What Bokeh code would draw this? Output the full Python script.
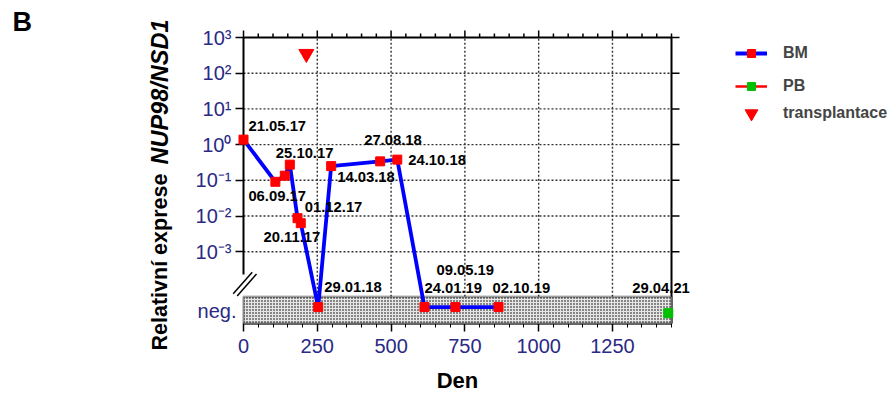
from math import log10, pi

from bokeh.plotting import figure
from bokeh.models import (Range1d, FixedTicker, LinearAxis, BoxAnnotation, Label, LabelSet,
                          ColumnDataSource, Legend, LegendItem, Arrow)
from bokeh.embed import file_html
from bokeh.resources import INLINE
from bokeh.core.properties import value

# ---------------- data ----------------
bm_dates = ["21.05.17", "06.09.17", "", "25.10.17", "20.11.17", "01.12.17", "29.01.18",
            "14.03.18", "27.08.18", "24.10.18", "24.01.19", "09.05.19", "02.10.19"]
bm_days = [0, 108, 140, 157, 183, 194, 253, 297, 463, 521, 613, 718, 864]
# relative expression; 0 means "neg."
bm_values = [1.38, 0.091, 0.135, 0.275, 0.0087, 0.0063, 0, 0.25, 0.34, 0.38, 0, 0, 0]

pb_dates = ["29.04.21"]
pb_days = [1439]
pb_values = [0]

transplant_days = [213]
transplant_values = [350]

y_tick_exponents = [3, 2, 1, 0, -1, -2, -3]
y_tick_labels = ["10³", "10²", "10¹", "10⁰", "10⁻¹", "10⁻²", "10⁻³"]
x_ticks = [0, 250, 500, 750, 1000, 1250]
neg_text = "neg."

# ---------------- layout / style ----------------
W, H = 891, 393
FR_L, FR_R, FR_T, FR_B = 243, 671, 37, 323      # chart box in canvas pixels
X_MIN, X_MAX = 0, 1450
Y_BOTTOM, Y_TOP = -5.01, 3.0
NEG_Y_BM = -4.55
NEG_Y_PB = -4.72
BAND_TOP = -4.26
AXIS_BREAK = -3.65
NAVY = "#2a2a84"
FONT = "Liberation Sans"
BLUE = "#0000ff"
RED = "#ff0000"
GREEN = "#00c000"

px_per_day = (FR_R - FR_L) / (X_MAX - X_MIN)
px_per_dec = (FR_B - FR_T) / (Y_TOP - Y_BOTTOM)


def dx(px):
    return X_MIN + (px - FR_L) / px_per_day


def dy(py):
    return Y_TOP - (py - FR_T) / px_per_dec


def to_y(v, neg):
    return log10(v) if v > 0 else neg


# the plotting frame covers the whole canvas; axes are pinned to the chart box
p = figure(width=W, height=H, x_range=Range1d(dx(0), dx(W)), y_range=Range1d(dy(H), dy(0)),
           output_backend="svg", toolbar_location=None, title=None,
           x_axis_location=None, y_axis_location=None, min_border=0,
           outline_line_color=None, background_fill_color="white",
           border_fill_color="white")
for g in p.grid:
    g.visible = False

minor_x = list(range(X_MIN, X_MAX + 1, 50))

# ---- dotted grid (behind everything) ----
gx = x_ticks[1:]
p.segment(x0=gx, y0=[BAND_TOP] * len(gx), x1=gx, y1=[Y_TOP] * len(gx),
          line_color="#333333", line_dash="2 2", line_width=1.4, level="underlay")
gy = y_tick_exponents[1:]
p.segment(x0=[X_MIN] * len(gy), y0=gy, x1=[X_MAX] * len(gy), y1=gy,
          line_color="#333333", line_dash="2 2", line_width=1.4, level="underlay")

# ---- bottom axis ----
xa = LinearAxis(fixed_location=Y_BOTTOM, bounds=(X_MIN, X_MAX),
                ticker=FixedTicker(ticks=x_ticks, minor_ticks=minor_x))
xa.axis_line_width = 2
xa.major_tick_out = 8
xa.major_tick_in = 0
xa.minor_tick_out = 4
xa.minor_tick_in = 0
xa.major_tick_line_width = 1.5
xa.major_label_text_font = FONT
xa.major_label_text_font_size = "20px"
xa.major_label_text_color = NAVY
xa.major_label_standoff = 7
xa.axis_label = "Den"
xa.axis_label_text_font = FONT
xa.axis_label_text_font_style = "bold"
xa.axis_label_text_font_size = "22px"
xa.axis_label_text_color = "black"
xa.axis_label_standoff = 12
p.add_layout(xa, "below")

# ---- left axis (log part only) ----
ya = LinearAxis(fixed_location=X_MIN, bounds=(AXIS_BREAK, Y_TOP),
                ticker=FixedTicker(ticks=y_tick_exponents, minor_ticks=[]))
ya.major_label_overrides = {e: t for e, t in zip(y_tick_exponents, y_tick_labels)}
ya.axis_line_width = 2
ya.major_tick_out = 8
ya.major_tick_in = 0
ya.major_tick_line_width = 1.5
ya.major_label_text_font = FONT
ya.major_label_text_font_size = "20px"
ya.major_label_text_color = NAVY
ya.major_label_standoff = 4
p.add_layout(ya, "left")

# ---- top and right frame lines with outward ticks ----
t_major = 7 / px_per_dec
t_minor = 4 / px_per_dec
p.segment(x0=[X_MIN], y0=[Y_TOP], x1=[X_MAX], y1=[Y_TOP], line_color="black", line_width=2)
p.segment(x0=minor_x, y0=[Y_TOP] * len(minor_x), x1=minor_x,
          y1=[Y_TOP + (t_major if x in x_ticks else t_minor) for x in minor_x],
          line_color="black", line_width=1.5)
p.segment(x0=[X_MAX], y0=[Y_BOTTOM], x1=[X_MAX], y1=[Y_TOP], line_color="black", line_width=2)
r_tick = 8 / px_per_day
p.segment(x0=[X_MAX] * len(y_tick_exponents), y0=y_tick_exponents,
          x1=[X_MAX + r_tick] * len(y_tick_exponents), y1=y_tick_exponents,
          line_color="black", line_width=1.5)

# ---- neg. band ----
band = BoxAnnotation(left=X_MIN, right=X_MAX, bottom=Y_BOTTOM, top=BAND_TOP,
                     fill_color="#868686", fill_alpha=1,
                     hatch_pattern="cross", hatch_color="#e6e6e6", hatch_scale=3,
                     hatch_weight=1, line_color="black", line_width=2.5)
p.add_layout(band)

# ---- axis break marks ----
for (x0, y0, x1, y1) in [(232.7, 293.3, 251.7, 271.7), (236.7, 295.5, 256.0, 273.5)]:
    p.add_layout(Arrow(start=None, end=None, x_start=dx(x0), y_start=dy(y0),
                       x_end=dx(x1), y_end=dy(y1), line_color="black", line_width=1.5))

# ---- series ----
bm_y = [to_y(v, NEG_Y_BM) for v in bm_values]
pb_y = [to_y(v, NEG_Y_PB) for v in pb_values]
src_bm = ColumnDataSource(dict(x=bm_days, y=bm_y))
src_pb = ColumnDataSource(dict(x=pb_days, y=pb_y))
src_tx = ColumnDataSource(dict(x=transplant_days, y=[log10(v) for v in transplant_values]))

r_bm_line = p.line("x", "y", source=src_bm, line_color=BLUE, line_width=3.8, level="overlay")
r_bm_pts = p.scatter("x", "y", source=src_bm, marker="square", size=9, fill_color=RED,
                     line_color=RED, level="overlay")
r_pb_line = p.line("x", "y", source=src_pb, line_color=RED, line_width=2.5, level="overlay")
r_pb_pts = p.scatter("x", "y", source=src_pb, marker="square", size=9, fill_color=GREEN,
                     line_color=GREEN, level="overlay")
r_tx = p.scatter("x", "y", source=src_tx, marker="inverted_triangle", size=15, fill_color=RED,
                 line_color=RED, level="overlay")

# ---- date labels (pixel offsets from each point) ----
label_dx = [5, -27, 0, -14, -34, 4, 6, 6, -16, 11, 0, -19, -6]
label_dy = [14, -14, 0, 12, -19, 16, 20, -11, 21, 0, 19, 37, 19]
pb_label_dx = [-36]
pb_label_dy = [25]
lx, ly, lt, ldx, ldy = [], [], [], [], []
for d, yy, t, ox, oy in zip(bm_days, bm_y, bm_dates, label_dx, label_dy):
    if t:
        lx.append(d); ly.append(yy); lt.append(t); ldx.append(ox); ldy.append(oy)
for d, yy, t, ox, oy in zip(pb_days, pb_y, pb_dates, pb_label_dx, pb_label_dy):
    lx.append(d); ly.append(yy); lt.append(t); ldx.append(ox); ldy.append(oy)
lab_src = ColumnDataSource(dict(x=lx, y=ly, text=lt, dx=ldx, dy=ldy))
p.add_layout(LabelSet(x="x", y="y", text="text", x_offset="dx", y_offset="dy", source=lab_src,
                      text_font=value(FONT), text_font_style="bold", text_font_size="14.8px",
                      text_color="black", text_align="left", text_baseline="middle",
                      level="overlay"))

# ---- neg. tick label ----
p.add_layout(Label(x=dx(236), y=dy(310), text=neg_text, text_align="right",
                   text_baseline="middle", text_font=FONT, text_font_size="20px",
                   text_color=NAVY))

# ---- y-axis title (mixed style) ----
p.add_layout(Label(x=dx(159), y=dy(350), text="Relativní exprese", angle=pi / 2,
                   text_align="left", text_baseline="middle", text_font=FONT,
                   text_font_style="bold", text_font_size="21.5px", text_color="black"))
p.add_layout(Label(x=dx(159), y=dy(164), text="NUP98/NSD1", angle=pi / 2,
                   text_align="left", text_baseline="middle", text_font=FONT,
                   text_font_style="bold italic", text_font_size="23.5px", text_color="black"))

# ---- panel letter ----
p.add_layout(Label(x=dx(12), y=dy(21), text="B", text_align="left", text_baseline="middle",
                   text_font=FONT, text_font_style="bold", text_font_size="27px",
                   text_color="black"))

# ---- legends ----
common = dict(padding=0, margin=0, border_line_color=None, background_fill_alpha=0,
              glyph_width=32, label_standoff=16, label_text_font=FONT,
              label_text_font_style="bold", label_text_font_size="16px",
              label_height=20)
leg1 = Legend(items=[LegendItem(label="BM", renderers=[r_bm_line, r_bm_pts]),
                     LegendItem(label="PB", renderers=[r_pb_line, r_pb_pts])],
              location=(735, H - 96), glyph_height=20, spacing=13, **common)
leg2 = Legend(items=[LegendItem(label="transplantace", renderers=[r_tx])],
              location=(735, H - 130), glyph_height=34, spacing=0, **common)
p.add_layout(leg1)
p.add_layout(leg2)

open("out.html", "w").write(file_html(p, INLINE))
